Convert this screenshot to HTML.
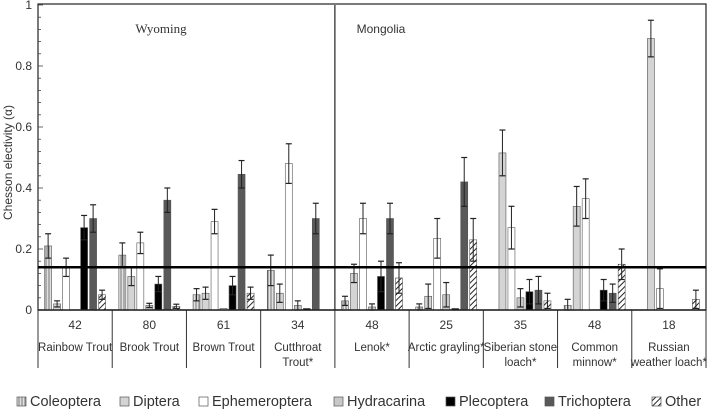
<!DOCTYPE html>
<html><head><meta charset="utf-8"><style>
body{margin:0;background:#fff;}
svg text{font-family:"Liberation Sans",sans-serif;fill:#333;}
svg text.serif{font-family:"Liberation Serif",serif;}
</style></head><body>
<svg id="c" width="709" height="410" xmlns="http://www.w3.org/2000/svg">
<defs>
<pattern id="vs" width="3" height="10" patternUnits="userSpaceOnUse"><rect width="3" height="10" fill="#e0e0e0"/><line x1="1" y1="0" x2="1" y2="10" stroke="#777" stroke-width="1"/></pattern>
<pattern id="dh" width="4" height="4" patternUnits="userSpaceOnUse" patternTransform="rotate(45)"><rect width="4" height="4" fill="#fff"/><line x1="0" y1="0" x2="0" y2="4" stroke="#222" stroke-width="2"/></pattern>
</defs>
</svg>
<script>
const categories=["Rainbow Trout","Brook Trout","Brown Trout","Cutthroat|Trout*","Lenok*","Arctic grayling*","Siberian stone|loach*","Common|minnow*","Russian|weather loach*"];
const counts=[42,80,61,34,48,25,35,48,18];
const taxa=["Coleoptera","Diptera","Ephemeroptera","Hydracarina","Plecoptera","Trichoptera","Other"];
const coleoptera=[0.21,0.18,0.05,0.13,0.03,0.01,0,0.015,0];
const coleopteraErr=[0.04,0.04,0.02,0.05,0.015,0.01,0,0.02,0];
const diptera=[0.02,0.11,0.055,0.055,0.12,0.045,0.515,0.34,0.89];
const dipteraErr=[0.01,0.03,0.02,0.03,0.03,0.04,0.075,0.065,0.06];
const ephemeroptera=[0.14,0.22,0.29,0.48,0.30,0.235,0.27,0.365,0.07];
const ephemeropteraErr=[0.03,0.035,0.04,0.065,0.05,0.065,0.07,0.065,0.065];
const hydracarina=[0,0.015,0.005,0.015,0.01,0.05,0.04,0,0];
const hydracarinaErr=[0,0.007,0,0.015,0.01,0.04,0.03,0,0];
const plecoptera=[0.27,0.085,0.08,0.005,0.11,0.005,0.06,0.065,0];
const plecopteraErr=[0.04,0.025,0.03,0,0.05,0,0.04,0.035,0];
const trichoptera=[0.30,0.36,0.445,0.30,0.30,0.42,0.065,0.055,0];
const trichopteraErr=[0.045,0.04,0.045,0.05,0.05,0.08,0.045,0.03,0];
const other=[0.05,0.012,0.055,0,0.105,0.23,0.03,0.15,0.035];
const otherErr=[0.015,0.007,0.02,0,0.05,0.07,0.025,0.05,0.03];
const yTicks=[0,0.2,0.4,0.6,0.8,1];
const refLine=0.14;

const series=[coleoptera,diptera,ephemeroptera,hydracarina,plecoptera,trichoptera,other];
const errs=[coleopteraErr,dipteraErr,ephemeropteraErr,hydracarinaErr,plecopteraErr,trichopteraErr,otherErr];
const fills=["url(#vs)","#d4d4d4","#fff","#c8c8c8","#000","#595959","url(#dh)"];
const X0=38,X1=706,Y0=310,Y1=5;
const gw=(X1-X0)/categories.length;
const y=v=>Y0-(Y0-Y1)*v;
const svg=document.getElementById('c');
const NS="http://www.w3.org/2000/svg";
function mk(t,a,p){const e=document.createElementNS(NS,t);for(const k in a)e.setAttribute(k,a[k]);(p||svg).appendChild(e);return e;}

let fr=mk('rect',{x:X0,y:Y1-1,width:X1-X0,height:Y0-Y1+1,fill:'none',stroke:'#222','stroke-width':1.2});


let dv=mk('line',{x1:X0+gw*4,x2:X0+gw*4,y1:Y1,y2:Y0,stroke:'#222','stroke-width':1.2});


let t1=mk('text',{x:161,y:33,'font-size':13,'text-anchor':'middle',class:'serif'});t1.textContent='Wyoming';


let t2=mk('text',{x:381,y:33,'font-size':12,'text-anchor':'middle'});t2.textContent='Mongolia';



yTicks.forEach(v=>{
  let tl=mk('text',{x:X0-6,y:y(v)+4,'font-size':12,'text-anchor':'end'});tl.textContent=v;
  
  
});
for(let i=0;i<=25;i++){const v=i*0.04;mk('line',{x1:X0,x2:X0+(i%5==0?5:3),y1:y(v),y2:y(v),stroke:'#444','stroke-width':0.8});}
let yt=mk('text',{x:0,y:0,'font-size':12,'text-anchor':'middle',transform:`translate(12,${(Y0+Y1)/2+5}) rotate(-90)`});yt.textContent='Chesson electivity (α)';



const bw=7,step=9;
categories.forEach((c,gi)=>{
  const gx=X0+gi*gw+(gw-step*7)/2;
  series.forEach((s,si)=>{
    const v=s[gi],e=errs[si][gi];
    const cx=gx+si*step+step/2;
    if(v>0){
      let r=mk('rect',{x:cx-bw/2,y:y(v),width:bw,height:Y0-y(v),fill:fills[si],stroke:'#555','stroke-width':0.6});
      
      
    }
    if(e>0){
      const a=y(Math.max(0,v-e)),b=y(v+e);
      mk('line',{x1:cx,x2:cx,y1:a,y2:b,stroke:'#222','stroke-width':1});
      mk('line',{x1:cx-3,x2:cx+3,y1:b,y2:b,stroke:'#222','stroke-width':1.2});
      mk('line',{x1:cx-3,x2:cx+3,y1:a,y2:a,stroke:'#222','stroke-width':1.2});
    }
  });
  const mx=X0+gi*gw+gw/2;
  let n=mk('text',{x:mx,y:329,'font-size':12,'text-anchor':'middle'});n.textContent=counts[gi];
  
  
  const lines=c.split('|');
  lines.forEach((ln,li)=>{
    let tl=mk('text',{x:mx,y:351+li*15,'font-size':11.5,'text-anchor':'middle'});tl.textContent=ln;
    
    
  });
});
for(let i=0;i<=categories.length;i++){const xx=X0+i*gw;mk('line',{x1:xx,x2:xx,y1:Y0,y2:368,stroke:'#333','stroke-width':1});}
mk('line',{x1:X0,x2:X1,y1:Y0,y2:Y0,stroke:'#222','stroke-width':1.5});
let rl=mk('line',{x1:X0,x2:X1,y1:y(refLine),y2:y(refLine),stroke:'#000','stroke-width':2.5});



const lx=[17,120,199,334,446,545,652];
taxa.forEach((t,i)=>{
  let g=mk('g',{});
  
  
  mk('rect',{x:lx[i],y:397,width:9,height:9,fill:fills[i],stroke:'#555','stroke-width':0.7},g);
  let tx=mk('text',{x:lx[i]+13,y:406,'font-size':14.5},g);tx.textContent=t;
});
</script>
</body></html>
